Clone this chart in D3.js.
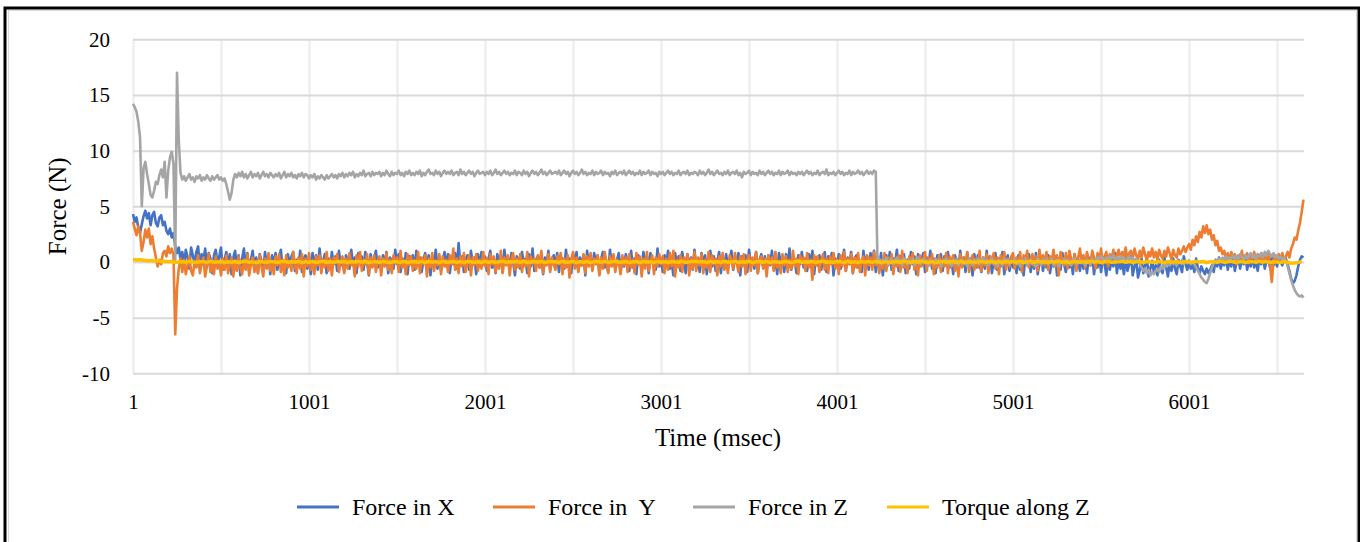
<!DOCTYPE html>
<html>
<head>
<meta charset="utf-8">
<script src="https://d3js.org/d3.v7.min.js"></script>
<style>
    body { margin: 0; background: #fff; }
    text { font-family: "Liberation Serif", "Times New Roman", serif; fill: #000; }
</style>
</head>
<body>
<div id="chart"></div>
<script>
// sample times in msec: forces kept every 10 msec, torque every 20 msec
var time_ms = d3.range(1, 6654, 10);
var time_ms_torque = d3.range(1, 6654, 20);

// Force in X (N), one row = 200 msec
var force_x = [
    4.3, 3.6, 4.0, 3.1, 2.6, 3.4, 4.1, 4.6, 3.9, 4.4, 3.3, 4.2, 4.5, 3.5, 3.2, 4.0, 4.2, 3.3, 3.6, 2.8,
    2.5, 3.0, 2.2, 2.6, 1.4, 0.8, 1.3, 0.2, 0.9, -0.3, 1.1, 0.4, -0.6, 1.3, 0.6, -0.2, 0.9, 1.4, -0.5, 0.7,
    0.1, 1.2, -0.4, 0.8, 0.3, -1.0, 0.6, 1.1, -0.2, 0.5, 1.3, -0.7, 0.2, 0.9, -0.3, 0.7, -1.1, 0.4, 1.0, -0.5,
    0.6, -1.2, 0.3, 1.2, -0.4, 0.8, -0.9, 0.2, 1.0, -0.6, 0.4, -1.0, 0.7, 0.1, -0.8, 0.9, -0.3, 0.5, -1.1, 0.6,
    -0.2, 0.8, -0.7, 0.3, 1.1, -0.5, 0.1, -1.0, 0.7, -0.3, 0.5, 0.9, -0.8, 0.2, -0.4, 1.0, -0.9, 0.3, 0.6, -0.6,
    0.4, -1.1, 0.8, -0.2, 0.6, -0.7, 1.2, -0.4, 0.1, 0.7, -1.0, 0.3, -0.5, 0.9, -0.2, 0.5, -0.8, 1.0, -0.3, 0.2,
    -0.9, 0.6, 0.1, -0.6, 1.1, -0.3, 0.4, -1.0, 0.8, -0.1, 0.5, -0.7, 0.9, 0.0, -1.2, 0.7, -0.4, 0.3, 1.0, -0.5,
    0.2, -0.8, 0.6, -0.3, 0.9, -1.0, 0.4, 0.1, -0.6, 1.1, -0.2, 0.7, -0.9, 0.3, -0.4, 0.8, -1.1, 0.5, -0.1, 0.6,
    -0.7, 1.0, -0.3, 0.4, -0.9, 0.2, 0.8, -0.5, 0.6, -1.2, 0.3, -0.2, 1.1, -0.6, 0.5, -0.8, 0.1, 0.9, -0.4, 0.7,
    -1.0, 0.4, -0.2, 0.8, -0.6, 1.7, -0.3, 0.5, -0.9, 0.2, 0.6, -0.7, 1.0, -0.1, 0.4, -1.1, 0.7, -0.4, 0.9, -0.2,
    0.5, -0.8, 0.3, 1.0, -0.5, 0.1, -1.0, 0.7, -0.3, 0.6, -0.9, 1.1, -0.2, 0.4, -0.7, 0.8, 0.0, -1.2, 0.5, 0.2,
    -0.6, 0.9, -0.1, 0.3, -1.0, 0.7, -0.4, 1.2, -0.8, 0.2, 0.5, -0.5, 0.8, -1.1, 0.4, -0.2, 1.0, -0.7, 0.1, 0.6,
    -0.3, 0.8, -0.9, 0.5, 0.2, -0.6, 1.1, -0.4, 0.3, -1.0, 0.7, -0.1, 0.9, -0.8, 0.4, -0.3, 0.6, -1.2, 1.0, -0.2,
    0.4, -0.7, 0.8, -0.1, 0.6, -1.1, 0.3, 0.9, -0.5, 0.1, -0.9, 1.1, -0.3, 0.5, -0.7, 0.2, 0.8, -1.0, 0.4, -0.4,
    0.7, -0.2, -0.8, 1.0, -0.5, 0.3, -1.1, 0.6, 0.0, -0.6, 0.9, -0.3, 0.5, -1.0, 0.8, -0.1, 0.2, -0.7, 1.2, -0.4,
    0.3, -0.9, 0.6, -0.2, 1.0, -0.6, 0.1, -1.2, 0.8, -0.3, 0.5, -0.8, 0.9, 0.0, -1.0, 0.7, -0.4, 0.4, -0.7, 1.1,
    -0.5, 0.2, -0.9, 0.8, -0.2, 0.6, -1.1, 0.3, 1.0, -0.4, 0.5, -0.8, 0.1, 0.9, -1.0, 0.4, -0.3, 0.7, -0.6, 0.2,
    1.0, -0.7, 0.4, -0.1, 0.8, -1.2, 0.5, -0.3, 0.6, -0.9, 1.1, -0.2, 0.3, -0.6, 0.9, -1.0, 0.2, 0.7, -0.4, 0.5,
    -0.8, 0.6, -0.3, 1.0, -0.6, 0.2, -1.1, 0.8, -0.1, 0.4, -0.9, 0.7, -0.4, 1.2, -0.7, 0.3, 0.0, -1.0, 0.6, -0.2,
    0.9, -0.5, 0.3, -0.8, 0.7, -0.2, 1.0, -1.1, 0.4, -0.3, 0.6, -0.7, 0.2, 0.9, -0.9, 0.5, -0.1, 0.8, -1.2, 0.3,
    -0.4, 0.7, -0.6, 0.2, 1.1, -0.8, 0.4, -0.2, 0.9, -1.0, 0.3, 0.6, -0.5, 0.1, -0.9, 1.0, -0.3, 0.5, -0.7, 0.8,
    -0.1, 1.0, -0.9, 0.4, -0.5, 0.8, -1.2, 0.2, 0.6, -0.3, 0.9, -0.7, 0.3, -0.1, 1.1, -0.8, 0.5, -0.4, 0.7, -1.0,
    0.2, -0.6, 0.9, -0.2, 0.5, -1.1, 0.7, -0.4, 0.1, 0.8, -0.9, 0.4, -0.3, 1.0, -0.6, 0.3, -1.0, 0.6, -0.1, 0.7,
    -0.8, 0.5, -0.3, 0.9, -0.5, 0.2, -1.1, 0.6, 0.1, -0.7, 1.0, -0.4, 0.4, -0.9, 0.8, -0.2, 0.3, -1.2, 0.7, -0.5,
    0.6, -0.2, -0.9, 0.4, -0.6, 1.0, -0.3, 0.5, -1.0, 0.2, 0.8, -0.7, 0.3, -0.4, 0.9, -1.1, 0.1, 0.6, -0.8, 0.4,
    -0.5, 0.3, -1.0, 0.6, -0.7, 0.1, -1.2, 0.5, -0.3, 0.7, -0.9, 0.2, -0.6, 0.8, -1.1, 0.0, 0.4, -0.8, 0.3, -0.5,
    0.6, -1.0, 0.1, -0.4, 0.5, -1.2, 0.3, -0.7, 0.8, -0.2, -0.9, 0.4, -0.5, 0.2, -1.1, 0.7, -0.3, 0.0, -0.8, 0.5,
    -0.6, 0.2, -1.0, 0.4, -0.3, 0.7, -1.1, 0.1, -0.5, 0.6, -0.9, 0.3, -0.2, -1.2, 0.5, -0.7, 0.2, -0.4, 0.8, -1.0,
    0.3, -0.6, 0.0, -1.1, 0.4, -0.8, -0.2, 0.5, -1.2, -0.4, 0.2, -1.4, -0.7, 0.3, -1.0, -0.3, 0.4, -1.3, -0.6, 0.1,
    -0.9, -0.3, -1.2, 0.2, -0.7, -1.0, 0.4, -0.5, -1.3, 0.0, -0.8, 0.3, -0.6, -1.1, 0.2, -0.4, -0.9, 0.5, -0.2, -0.7,
    0.1, -0.6, -0.2, -0.9, 0.3, -0.5, -1.0, -0.4, -0.8, -1.1, -0.6, -1.0, -0.7, -0.3, -0.9, 0.2, -0.4, 0.4, -0.6, 0.1,
    -0.3, 0.5, -0.7, 0.2, -0.4, 0.6, -0.8, 0.0, 0.4, -0.6, 0.3, -0.2, 0.6, -0.7, 0.1, -0.4, 0.5, -0.5, 0.2, -0.8,
    0.4, -0.2, 0.6, -0.6, 0.1, 0.3, -0.5, 0.5, -0.3, 0.2, -0.4, 0.6, 0.0, -0.3, 0.4, 0.3, -0.2, -0.8, -1.5, -1.9,
    -1.7, -1.2, -0.4, 0.2, 0.5, 0.4
];

// Force in Y (N)
var force_y = [
    3.6, 3.0, 2.4, 3.2, 2.6, 1.0, 1.8, 2.9, 2.2, 3.0, 1.6, 2.3, 1.2, 0.4, -0.4, 0.2, -0.2, 0.8, 1.0, 0.5,
    1.4, 0.8, 1.2, 0.6, -6.5, -2.4, -0.6, 0.3, -0.9, 0.2, -1.1, -0.3, 0.5, -0.8, -1.2, 0.1, -0.5, 0.6, -1.0, -0.2,
    0.4, -1.3, -0.4, 0.7, -0.9, 0.0, -1.1, 0.5, -0.6, -0.1, -1.2, 0.3, -0.7, 0.6, -1.0, -0.3, 0.4, -1.3, 0.1, -0.8,
    0.5, -0.5, -1.1, 0.2, -0.7, 0.7, -1.2, -0.2, 0.4, -0.9, 0.1, -1.0, 0.6, -0.4, -1.3, 0.3, -0.6, 0.8, -0.8, 0.0,
    -1.1, 0.5, -0.3, 0.7, -0.9, 0.2, -1.2, 0.6, -0.5, 0.1, -0.8, 0.9, -0.2, -1.0, 0.4, -0.6, 0.7, -1.3, 0.3, -0.4,
    0.8, -0.7, 0.1, -1.1, 0.5, -0.3, 0.6, -1.0, 0.2, -0.5, 0.9, -0.8, 0.3, -1.2, 0.4, -0.1, 0.7, -0.9, 0.0, 0.5,
    -1.0, 0.3, -0.6, 0.8, -0.3, 0.1, -1.3, 0.6, -0.4, 0.9, -0.8, 0.2, -0.2, 0.7, -1.1, 0.4, -0.5, 0.6, -0.9, 0.1,
    0.5, -1.2, 0.3, -0.4, 0.8, -0.7, 0.2, -1.0, 0.6, -0.1, 0.4, -0.9, 1.0, -0.5, 0.1, -1.1, 0.7, -0.3, 0.5, -0.8,
    0.2, -0.6, 0.9, -1.0, 0.4, -0.2, 0.6, -1.3, 0.3, -0.5, 0.8, -0.8, 0.1, -0.3, 0.7, -1.1, 0.5, -0.4, 0.2, -0.9,
    0.6, -0.2, 1.2, -0.7, 0.3, -1.0, 0.5, -0.4, 0.8, -0.9, 0.0, 0.6, -1.2, 0.4, -0.3, 0.7, -0.8, 0.2, -0.6, 0.9,
    -0.4, 0.3, -1.1, 0.7, -0.2, 0.5, -0.9, 0.1, -0.6, 1.0, -1.0, 0.4, -0.3, 0.6, -1.2, 0.2, 0.8, -0.7, 0.3, -0.5,
    0.7, -0.9, 0.2, -0.4, 0.9, -1.3, 0.5, -0.1, 0.3, -0.8, 0.6, -0.5, 1.0, -1.0, 0.1, -0.3, 0.7, -0.9, 0.4, -0.2,
    -0.7, 0.5, -0.2, 0.8, -1.1, 0.3, -0.5, 0.6, -1.4, 0.2, 0.9, -0.6, 0.4, -0.9, 0.1, -0.3, 0.7, -1.0, 0.5, -0.4,
    0.8, -0.8, 0.3, -0.2, 0.6, -1.2, 0.4, -0.6, 0.9, -0.1, -1.0, 0.5, -0.4, 0.7, -0.9, 0.2, 0.0, -1.1, 0.6, -0.3,
    0.4, -0.9, 0.7, -0.5, 0.2, -1.0, 0.8, -0.2, 0.5, -1.3, 0.3, -0.6, 0.9, -0.8, 0.1, 0.6, -1.1, 0.4, -0.4, 0.7,
    -0.2, 0.5, -1.0, 0.3, -0.7, 0.8, -0.4, 1.0, -1.3, 0.2, -0.5, 0.6, -0.9, 0.4, -0.1, 0.7, -1.2, 0.3, -0.6, 0.9,
    -0.8, 0.4, -0.3, 0.7, -1.0, 0.2, -0.5, 0.9, -0.9, 0.6, -0.2, 0.3, -1.2, 0.5, -0.4, 0.8, -0.7, 0.1, -1.0, 0.6,
    0.3, -0.6, 0.8, -0.1, -0.9, 0.5, -0.4, 0.7, -1.1, 0.2, 0.6, -0.8, 0.4, -0.3, 0.9, -1.0, 0.1, 0.5, -0.6, 0.3,
    -1.3, 0.6, -0.2, 0.4, -0.8, 0.9, -0.5, 0.1, -1.0, 0.7, -0.3, 0.5, -0.9, 0.2, -0.6, 1.0, -0.4, 0.3, -1.1, 0.6,
    -0.1, 0.4, -0.8, 0.8, -0.5, 0.2, -1.6, 0.6, -0.3, 0.5, -0.9, 0.1, 0.7, -0.7, 0.3, -1.0, 0.5, -0.2, 0.8, -0.6,
    0.2, -1.1, 0.6, -0.4, 0.9, -0.8, 0.3, -0.2, 0.7, -1.0, 0.4, -0.5, 0.8, -0.9, 0.1, 0.5, -1.2, 0.6, -0.3, 0.4,
    -0.7, 0.9, -0.3, 0.5, -1.0, 0.2, -0.6, 0.8, -0.8, 0.4, -0.1, 0.7, -1.1, 0.3, -0.4, 0.6, -0.9, 1.0, -0.5, 0.2,
    -1.0, 0.5, -0.2, 0.8, -0.7, 0.3, -1.2, 0.6, -0.4, 0.1, 0.9, -0.8, 0.4, -0.3, 0.7, -1.1, 0.2, -0.5, 0.6, -0.9,
    0.3, -0.4, 0.8, -1.0, 0.5, -0.1, 0.6, -0.8, 0.2, -1.3, 0.7, -0.5, 0.4, -0.2, 0.9, -0.9, 0.1, 0.6, -0.7, 0.3,
    -0.5, 1.0, -0.8, 0.2, -0.3, 0.7, -1.0, 0.5, -0.1, 0.8, -0.6, 0.4, -1.1, 0.6, -0.2, 0.9, -0.7, 0.3, -0.4, 0.5,
    0.8, -0.6, 0.4, -0.2, 0.9, -0.9, 0.6, 0.0, 1.0, -0.5, 0.3, 0.7, -0.4, 0.5, -0.8, 1.1, -0.1, 0.6, -0.3, 0.9,
    -0.7, 0.5, 0.1, 1.1, -0.4, 0.6, -1.2, 0.9, 0.2, -0.3, 0.8, -0.6, 1.0, 0.3, -0.2, 0.7, -0.8, 0.4, 1.2, -0.1,
    0.6, -0.5, 0.9, 0.2, -0.3, 1.0, 0.4, -0.6, 0.8, 0.1, 1.2, -0.2, 0.5, 0.9, -0.4, 0.7, 0.3, 1.1, -0.1, 0.6,
    1.1, 0.2, 0.9, 0.5, 1.3, 0.1, 0.8, 1.0, 0.3, 1.2, 0.6, 0.2, 1.0, 0.4, 1.3, 0.7, 0.1, 0.9, 0.5, 1.2,
    0.4, 0.9, 0.2, 1.1, 0.6, 0.3, 1.0, 0.5, 1.3, 0.8, 0.2, 1.1, 0.6, 0.4, 1.2, 0.7, 1.0, 1.4, 0.9, 1.3,
    1.6, 1.1, 2.0, 1.5, 2.3, 1.8, 2.7, 2.2, 3.2, 2.6, 3.3, 2.5, 2.9, 2.0, 2.4, 1.5, 1.9, 1.0, 1.3, 0.7,
    1.0, 0.3, 0.8, 0.1, 0.9, 0.4, 0.7, -0.2, 0.6, 0.2, 1.0, 0.0, 0.5, 0.8, -0.1, 0.6, 0.3, 0.9, 0.1, 0.7,
    0.2, 0.8, -0.1, 0.5, 0.3, 0.7, -0.3, -1.8, 0.2, 0.6, 0.0, 0.7, 0.3, 0.8, 0.1, 0.5, 0.9, 0.4, 1.2, 1.6,
    2.2, 2.0, 2.8, 3.5, 4.5, 5.6
];

// Force in Z (N)
var force_z = [
    14.2, 13.9, 13.5, 12.6, 11.2, 5.0, 8.4, 9.0, 7.9, 7.0, 6.0, 5.8, 6.4, 7.2, 7.0, 7.8, 8.3, 7.6, 9.0, 5.8,
    8.2, 9.4, 9.9, 8.8, 0.2, 17.0, 10.9, 8.0, 7.4, 7.7, 7.3, 7.6, 7.9, 7.4, 7.6, 7.2, 7.7, 7.5, 7.8, 7.3,
    7.6, 7.4, 7.8, 7.5, 7.3, 7.7, 7.4, 7.6, 7.8, 7.4, 7.6, 7.3, 7.5, 7.0, 6.3, 5.6, 6.2, 7.4, 7.9, 7.6,
    8.0, 7.7, 8.1, 7.6, 7.9, 7.5, 7.8, 8.1, 7.6, 7.9, 7.7, 8.0, 7.5, 7.8, 8.1, 7.7, 7.9, 7.6, 8.0, 7.8,
    7.6, 7.9, 7.7, 8.0, 7.5, 7.8, 8.1, 7.6, 7.9, 7.7, 8.0, 7.6, 7.8, 7.5, 7.9, 7.7, 8.0, 7.6, 7.9, 7.8,
    7.5, 7.8, 7.6, 7.9, 7.4, 7.7, 7.5, 7.8, 7.6, 7.4, 7.8, 7.5, 7.7, 7.9, 7.6, 7.8, 7.5, 7.9, 7.7, 8.0,
    7.6, 7.9, 7.7, 8.0, 7.8, 8.1, 7.6, 7.9, 7.7, 8.0, 7.8, 8.2, 7.7, 7.9, 8.0, 7.7, 8.1, 7.8, 8.0, 7.9,
    8.1, 7.7, 8.0, 7.8, 8.2, 7.9, 7.7, 8.1, 7.8, 8.0, 7.9, 8.2, 7.8, 8.0, 7.7, 8.1, 7.9, 8.2, 7.8, 8.0,
    7.8, 8.1, 7.9, 8.2, 7.7, 8.0, 7.8, 8.1, 8.3, 7.9, 8.0, 7.8, 8.2, 7.9, 8.1, 7.7, 8.0, 8.2, 7.9, 8.1,
    7.9, 8.2, 7.8, 8.0, 8.1, 7.8, 8.3, 7.9, 8.1, 7.8, 8.0, 8.2, 7.9, 8.1, 7.7, 8.0, 8.2, 7.9, 8.0, 8.1,
    7.8, 8.1, 7.9, 8.2, 7.8, 8.0, 8.3, 7.9, 8.1, 7.8, 8.0, 8.2, 7.9, 8.1, 7.8, 8.0, 7.9, 8.2, 7.8, 8.1,
    8.0, 7.8, 8.2, 7.9, 8.1, 7.7, 8.0, 8.2, 7.9, 8.1, 7.8, 8.0, 8.3, 7.9, 8.1, 7.8, 8.0, 8.2, 7.9, 8.0,
    8.1, 7.9, 8.2, 7.8, 8.0, 8.2, 7.9, 8.1, 7.7, 8.0, 8.2, 7.9, 8.1, 7.8, 8.0, 8.3, 7.9, 8.1, 7.8, 8.0,
    7.9, 8.2, 7.8, 8.1, 7.9, 8.0, 8.2, 7.8, 8.1, 7.9, 8.0, 7.7, 8.1, 7.9, 8.2, 7.8, 8.0, 8.1, 7.9, 8.2,
    7.8, 8.0, 8.2, 7.9, 8.1, 7.8, 8.0, 7.9, 8.2, 7.8, 8.1, 7.9, 8.0, 8.2, 7.8, 8.1, 7.9, 8.0, 7.7, 8.1,
    7.9, 8.1, 7.8, 8.0, 8.2, 7.9, 8.1, 7.8, 8.0, 7.9, 8.2, 7.8, 8.0, 8.1, 7.9, 8.2, 7.8, 8.0, 7.9, 8.1,
    8.0, 7.8, 8.2, 7.9, 8.1, 7.8, 8.0, 8.3, 7.9, 8.1, 7.8, 8.0, 8.2, 7.9, 8.0, 7.8, 8.1, 7.9, 8.2, 7.8,
    8.0, 8.1, 7.9, 8.2, 7.8, 8.0, 7.6, 8.1, 7.9, 8.0, 8.2, 7.8, 8.1, 7.9, 8.0, 7.8, 8.2, 7.9, 8.1, 7.8,
    8.0, 8.2, 7.9, 8.1, 7.8, 8.0, 7.9, 8.2, 7.8, 8.1, 7.9, 8.0, 8.2, 7.8, 8.1, 7.9, 8.0, 7.8, 8.1, 7.9,
    8.1, 7.8, 8.0, 8.2, 7.9, 8.1, 7.8, 8.0, 7.9, 8.2, 7.8, 8.0, 8.1, 7.9, 8.3, 7.8, 8.0, 7.9, 8.1, 7.8,
    8.0, 8.2, 7.9, 8.1, 7.8, 8.0, 7.9, 8.2, 7.8, 8.1, 7.9, 8.0, 8.2, 7.9, 8.1, 7.8, 8.0, 8.2, 7.9, 8.1,
    7.9, 8.2, 8.1, -0.1, 0.3, -0.2, 0.2, 0.0, 0.4, -0.3, 0.1, 0.3, -0.2, 0.1, 0.4, -0.1, 0.2, -0.3, 0.3, 0.0,
    -0.2, 0.2, -0.1, 0.3, -0.3, 0.1, 0.4, -0.2, 0.0, 0.3, -0.1, 0.1, -0.3, 0.2, 0.0, -0.2, 0.3, -0.1, 0.2, -0.4,
    0.1, 0.0, 0.3, -0.2, 0.1, -0.4, 0.2, -0.1, 0.3, -0.3, 0.0, 0.2, -0.2, 0.1, -0.4, 0.3, 0.0, -0.3, 0.2, -0.1,
    0.3, -0.2, 0.1, 0.4, -0.1, 0.2, -0.3, 0.0, 0.3, -0.2, 0.1, -0.4, 0.2, 0.0, -0.3, 0.3, -0.1, 0.2, -0.2, 0.1,
    0.0, 0.3, -0.2, 0.1, -0.4, 0.2, -0.1, 0.3, -0.3, 0.0, 0.2, -0.2, 0.1, -0.4, 0.3, 0.0, -0.3, 0.2, -0.1, 0.3,
    -0.2, 0.1, 0.3, -0.3, 0.0, 0.2, -0.4, 0.1, -0.1, 0.3, -0.2, 0.2, 0.0, -0.3, 0.1, 0.3, -0.2, 0.0, 0.2, -0.1,
    0.1, -0.3, 0.2, 0.0, -0.2, 0.3, -0.1, 0.1, 0.4, 0.2, 0.5, 0.3, 0.1, 0.4, 0.2, 0.5, 0.3, 0.6, 0.2, 0.4,
    0.3, 0.5, 0.2, 0.4, 0.1, 0.3, 0.5, 0.2, 0.4, 0.0, 0.3, 0.1, -0.2, -0.5, -0.8, -0.6, -1.0, -0.7, -1.2, -0.9,
    -1.1, -0.8, -0.6, -0.9, -0.4, -0.6, -0.2, -0.4, 0.0, -0.3, 0.1, -0.2, 0.0, -0.3, 0.1, -0.1, 0.2, -0.2, 0.0, -0.1,
    0.1, -0.2, 0.0, -0.2, -0.5, -0.8, -1.1, -1.4, -1.6, -1.8, -1.9, -1.5, -1.0, -0.5, -0.1, 0.2, 0.0, 0.3, 0.1, 0.4,
    0.2, 0.5, 0.1, 0.4, 0.3, 0.6, 0.2, 0.5, 0.3, 0.7, 0.4, 0.2, 0.6, 0.3, 0.5, 0.8, 0.4, 0.6, 0.3, 0.7,
    0.5, 0.8, 0.4, 0.9, 0.6, 1.0, 0.7, 0.5, 0.8, 0.4, 0.6, 0.3, 0.5, 0.2, 0.4, 0.1, -0.4, -1.0, -1.6, -2.1,
    -2.5, -2.8, -3.0, -3.1, -3.0, -3.2
];

// Torque along Z
var torque_z = [
    0.22, 0.18, 0.20, 0.15, 0.12, 0.14, 0.08, 0.10, 0.05, 0.06,
    0.02, 0.04, -0.05, 0.00, 0.03, -0.02, 0.05, 0.00, -0.04, 0.02,
    0.03, -0.04, 0.06, -0.02, 0.00, 0.05, -0.06, 0.02, -0.03, 0.04,
    -0.05, 0.02, 0.07, -0.03, 0.01, -0.06, 0.04, 0.00, -0.02, 0.05,
    0.01, -0.05, 0.03, 0.06, -0.04, 0.02, -0.01, 0.05, -0.06, 0.03,
    -0.02, 0.04, -0.05, 0.01, 0.06, -0.03, 0.02, -0.04, 0.05, 0.00,
    0.04, -0.06, 0.02, -0.01, 0.05, -0.03, 0.06, -0.05, 0.01, 0.03,
    -0.04, 0.05, 0.00, -0.06, 0.03, 0.02, -0.02, 0.06, -0.05, 0.01,
    0.02, -0.03, 0.05, -0.05, 0.04, -0.01, 0.03, -0.06, 0.06, -0.02,
    0.00, 0.04, -0.04, 0.03, -0.06, 0.05, 0.01, -0.03, 0.02, -0.05,
    0.05, -0.02, 0.03, -0.05, 0.01, 0.06, -0.04, 0.02, -0.01, 0.04,
    -0.03, 0.06, -0.05, 0.00, 0.04, -0.02, 0.05, -0.06, 0.03, 0.01,
    0.02, -0.04, 0.06, -0.03, 0.00, 0.05, -0.05, 0.03, -0.02, 0.04,
    -0.06, 0.01, 0.04, -0.02, 0.05, -0.04, 0.02, 0.06, -0.03, 0.00,
    0.03, -0.05, 0.01, 0.05, -0.06, 0.04, -0.01, 0.02, -0.04, 0.06,
    -0.02, 0.03, -0.05, 0.04, 0.00, -0.03, 0.06, -0.04, 0.01, 0.05,
    0.04, -0.01, 0.02, -0.06, 0.05, -0.02, 0.03, -0.05, 0.06, -0.03,
    0.00, 0.05, -0.04, 0.02, -0.02, 0.06, -0.06, 0.01, 0.04, -0.03,
    0.05, -0.05, 0.03, 0.00, -0.04, 0.04, 0.01, -0.06, 0.02, 0.06,
    -0.03, 0.02, -0.01, 0.05, -0.05, 0.03, 0.06, -0.02, 0.00, -0.04,
    0.04, 0.01, -0.05, 0.06, -0.03, 0.02, -0.06, 0.05, -0.01, 0.03,
    -0.02, 0.05, 0.00, -0.04, 0.03, -0.06, 0.04, 0.02, -0.03, 0.06,
    0.01, -0.05, 0.04, -0.02, 0.06, 0.00, -0.04, 0.03, -0.06, 0.02,
    0.05, -0.03, 0.01, 0.04, -0.05, 0.06, -0.02, 0.00, 0.03, -0.04,
    -0.01, 0.06, -0.04, 0.02, 0.05, -0.06, 0.03, -0.03, 0.04, 0.00,
    0.03, -0.02, 0.05, -0.05, 0.01, 0.04, -0.04, 0.06, -0.01, 0.02,
    -0.05, 0.03, 0.00, 0.06, -0.03, 0.02, -0.06, 0.04, 0.01, -0.02,
    0.04, -0.04, 0.06, -0.01, 0.03, -0.05, 0.02, 0.05, -0.03, 0.00,
    0.02, 0.05, -0.02, 0.04, -0.04, 0.01, 0.06, -0.05, 0.03, -0.01,
    -0.03, 0.04, 0.01, -0.05, 0.05, -0.02, 0.03, 0.00, -0.04, 0.06,
    0.00, -0.03, 0.05, -0.01, 0.04, -0.06, 0.02, 0.03, -0.02, 0.05,
    -0.04, 0.02, 0.06, -0.03, 0.00, 0.04, -0.05, 0.01, 0.03, -0.02,
    0.05, -0.01, 0.03, -0.04, 0.02, 0.00, -0.05, 0.04, -0.02, -0.12,
    -0.10, -0.04, 0.03
];

var series_names = ["Force in X", "Force in  Y", "Force in Z", "Torque along Z"];
var series_colors = ["#4472C4", "#ED7D31", "#A5A5A5", "#FFC000"];
var y_ticks = [-10, -5, 0, 5, 10, 15, 20];
var x_label_ticks = [1, 1001, 2001, 3001, 4001, 5001, 6001];
var x_grid_ticks = [1, 501, 1001, 1501, 2001, 2501, 3001, 3501, 4001, 4501, 5001, 5501, 6001, 6501];

var W = 1360, H = 542;
var plot = { left: 133, right: 1304, top: 39.3, bottom: 373.3 };

var svg = d3.select("#chart")
    .append("svg")
    .attr("width", W)
    .attr("height", H);

svg.append("rect")
    .attr("width", W).attr("height", H)
    .attr("fill", "#fff");

// outer frame
svg.append("rect")
    .attr("x", 8.5).attr("y", 10.5)
    .attr("width", 1348).attr("height", 540)
    .attr("fill", "none")
    .attr("stroke", "#d9d9d9")
    .attr("stroke-width", 1);

svg.append("rect")
    .attr("x", 5).attr("y", 8)
    .attr("width", 1354).attr("height", 545)
    .attr("fill", "none")
    .attr("stroke", "#000")
    .attr("stroke-width", 3);

var xScale = d3.scaleLinear()
    .domain([1, 6654])
    .range([plot.left, plot.right]);

var yScale = d3.scaleLinear()
    .domain([-10, 20])
    .range([plot.bottom, plot.top]);

// vertical gridlines every 500 msec
svg.append("g")
    .attr("transform", "translate(0," + plot.bottom + ")")
    .call(d3.axisBottom(xScale)
        .tickValues(x_grid_ticks)
        .tickSize(-(plot.bottom - plot.top))
        .tickFormat(""))
    .call(function(g) { g.select(".domain").remove(); })
    .selectAll("line")
    .attr("stroke", "#ebebeb")
    .attr("stroke-width", 2);

// horizontal gridlines
svg.append("g")
    .attr("transform", "translate(" + plot.left + ",0)")
    .call(d3.axisLeft(yScale)
        .tickValues(y_ticks)
        .tickSize(-(plot.right - plot.left))
        .tickFormat(""))
    .call(function(g) { g.select(".domain").remove(); })
    .selectAll("line")
    .attr("stroke", "#d9d9d9")
    .attr("stroke-width", 2);

// plain number labels (hyphen minus, no thousands comma)
var plain = function(d) { return String(d); };

// y tick labels
svg.append("g")
    .attr("transform", "translate(" + (plot.left - 23) + ",0)")
    .call(d3.axisLeft(yScale).tickValues(y_ticks).tickSize(0).tickPadding(0).tickFormat(plain))
    .call(function(g) { g.select(".domain").remove(); })
    .selectAll("text")
    .attr("font-family", "Liberation Serif")
    .attr("font-size", 21)
    .attr("fill", "#000");

// x tick labels
svg.append("g")
    .attr("transform", "translate(0," + (plot.bottom + 21) + ")")
    .call(d3.axisBottom(xScale).tickValues(x_label_ticks).tickSize(0).tickPadding(0).tickFormat(plain))
    .call(function(g) { g.select(".domain").remove(); })
    .selectAll("text")
    .attr("font-family", "Liberation Serif")
    .attr("font-size", 21)
    .attr("fill", "#000");

// axis titles
svg.append("text")
    .attr("text-anchor", "middle")
    .attr("x", 718).attr("y", 446)
    .attr("font-size", 25)
    .text("Time (msec)");

svg.append("text")
    .attr("text-anchor", "middle")
    .attr("transform", "translate(66," + ((plot.top + plot.bottom) / 2) + ")rotate(-90)")
    .attr("font-size", 25)
    .text("Force (N)");

// series, drawn in Excel order so torque sits on top
var all_series = [
    { values: force_x, times: time_ms },
    { values: force_y, times: time_ms },
    { values: force_z, times: time_ms },
    { values: torque_z, times: time_ms_torque }
];

svg.append("g")
    .selectAll("path")
    .data(all_series)
    .enter().append("path")
    .attr("d", function(s) {
        return d3.line()
            .x(function(d, i) { return xScale(s.times[i]); })
            .y(function(d) { return yScale(d); })(s.values);
    })
    .attr("fill", "none")
    .attr("stroke", function(d, i) { return series_colors[i]; })
    .attr("stroke-width", function(d, i) { return i == 3 ? 3.5 : 2.6; })
    .attr("stroke-linejoin", "round");

// legend
var legend_x = [297, 493, 693, 887];
var legend = svg.append("g")
    .selectAll("g")
    .data(series_names)
    .enter().append("g")
    .attr("transform", function(d, i) { return "translate(" + legend_x[i] + ",507)"; });

legend.append("line")
    .attr("x1", 0).attr("x2", 42)
    .attr("stroke", function(d, i) { return series_colors[i]; })
    .attr("stroke-width", 3);

legend.append("text")
    .attr("x", 55).attr("y", 8)
    .attr("font-size", 24)
    .style("white-space", "pre")
    .text(function(d) { return d; });
</script>
</body>
</html>
